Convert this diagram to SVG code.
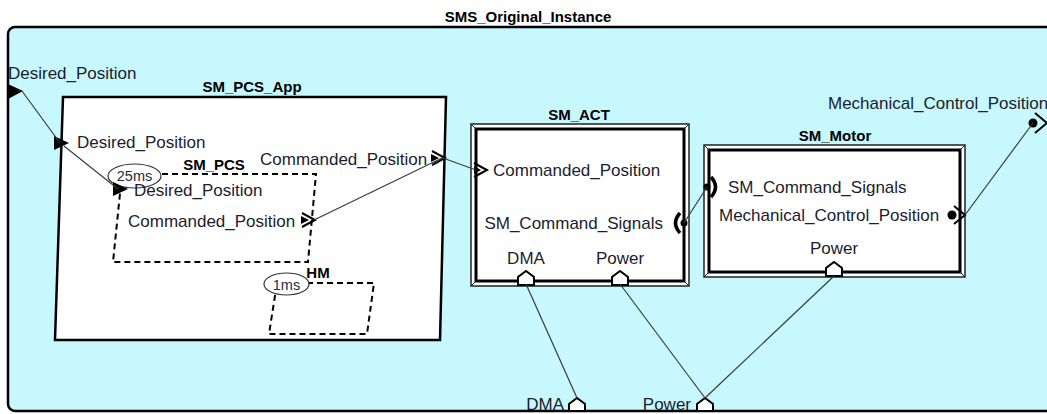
<svg xmlns="http://www.w3.org/2000/svg" width="1047" height="414" viewBox="0 0 1047 414">
  <style>
    .lbl { font-family: "Liberation Sans", Arial, sans-serif; font-size: 17px; fill: #1c1c30; }
    .ttl { font-family: "Liberation Sans", Arial, sans-serif; font-size: 15px; font-weight: bold; fill: #000; }
    .rate { font-family: "Liberation Sans", Arial, sans-serif; font-size: 14.5px; fill: #2a2a40; }
    .frame { fill: #fff; stroke: #000; stroke-width: 2.5; }
    .dash { fill: none; stroke: #000; stroke-width: 2; stroke-dasharray: 6 4; }
    .oval { fill: #fff; stroke: #333; stroke-width: 1.2; }
    .wire { fill: none; stroke: #3a3a3a; stroke-width: 1.2; }
    .tri { fill: #000; }
    .chev { fill: none; stroke: #000; stroke-width: 2; }
    .house { fill: #fff; stroke: #000; stroke-width: 2; }
    .bev-out { fill: #fff; stroke: #222; stroke-width: 1.5; }
    .bev-in { fill: #fff; stroke: #000; stroke-width: 3; }
    .bev-edge { stroke: #222; stroke-width: 1; }
  </style>

  <!-- outer composition -->
  <g id="SMS_Original_Instance">
    <rect x="8" y="27" width="1046" height="384" rx="7" fill="#c6f8fe" stroke="#000" stroke-width="2.5"/>
    <text class="ttl" x="528" y="22" text-anchor="middle">SMS_Original_Instance</text>
    <!-- in port Desired_Position -->
    <polygon class="tri" points="8,84 23,91 8,99"/>
    <text class="lbl" x="8" y="79">Desired_Position</text>
    <!-- out port Mechanical_Control_Position -->
    <circle cx="1033" cy="123" r="4.5" fill="#000"/>
    <polyline class="chev" points="1035,113 1047,123 1035,133"/>
    <text class="lbl" x="828" y="109">Mechanical_Control_Position</text>
    <!-- bottom ports -->
    <polygon class="house" points="569,411 569,404 577,398 585,404 585,411"/>
    <text class="lbl" x="564" y="410" text-anchor="end">DMA</text>
    <polygon class="house" points="697,411 697,404 705,398 713,404 713,411"/>
    <text class="lbl" x="691" y="410" text-anchor="end">Power</text>
  </g>

  <!-- SM_PCS_App -->
  <g id="SM_PCS_App">
    <polygon class="frame" points="63,97 446,97 440,340 55,340"/>
    <text class="ttl" x="252" y="92" text-anchor="middle">SM_PCS_App</text>
    <polygon class="tri" points="54,136 69,143 54,150"/>
    <text class="lbl" x="77" y="148">Desired_Position</text>
    <polygon class="tri" points="431,154 439,158 431,162"/>
    <polyline class="chev" points="432,151 445,158 432,165"/>
    <text class="lbl" x="260" y="165">Commanded_Position</text>
  </g>

  <!-- SM_PCS -->
  <g id="SM_PCS">
    <polygon class="dash" points="122,174 316,174 308,262 113,262"/>
    <ellipse class="oval" cx="134.5" cy="176" rx="26.5" ry="12"/>
    <text class="rate" x="134.5" y="181" text-anchor="middle">25ms</text>
    <text class="ttl" x="214" y="170" text-anchor="middle">SM_PCS</text>
    <polygon class="tri" points="113,182 128,189 113,196"/>
    <text class="lbl" x="134" y="196">Desired_Position</text>
    <polygon class="tri" points="301,216 309,220 301,224"/>
    <polyline class="chev" points="302,213 315,220 302,227"/>
    <text class="lbl" x="128" y="227">Commanded_Position</text>
  </g>

  <!-- HM -->
  <g id="HM">
    <polygon class="dash" points="277,283 374,283 367,334 269,334"/>
    <ellipse class="oval" cx="286.5" cy="284" rx="22.5" ry="11"/>
    <text class="rate" x="286.5" y="290" text-anchor="middle">1ms</text>
    <text class="ttl" x="318" y="278" text-anchor="middle">HM</text>
  </g>

  <!-- SM_ACT -->
  <g id="SM_ACT">
    <rect class="bev-out" x="471" y="124" width="218" height="162"/>
    <rect class="bev-in" x="476" y="129" width="208" height="152"/>
    <line class="bev-edge" x1="471" y1="124" x2="476" y2="129"/>
    <line class="bev-edge" x1="689" y1="124" x2="684" y2="129"/>
    <line class="bev-edge" x1="471" y1="286" x2="476" y2="281"/>
    <line class="bev-edge" x1="689" y1="286" x2="684" y2="281"/>
    <text class="ttl" x="579" y="120" text-anchor="middle">SM_ACT</text>
    <polygon class="tri" points="474,166 481,170 474,174"/>
    <polyline class="chev" points="474,163 487,170 474,177"/>
    <text class="lbl" x="493" y="176">Commanded_Position</text>
    <path d="M680,213 Q671,223 680,233" fill="none" stroke="#000" stroke-width="3.5"/>
    <circle cx="684" cy="223" r="3.5" fill="#000"/>
    <text class="lbl" x="663" y="229" text-anchor="end">SM_Command_Signals</text>
    <polygon class="house" points="518,285 518,277 526,271 534,277 534,285"/>
    <text class="lbl" x="526" y="264" text-anchor="middle">DMA</text>
    <polygon class="house" points="612,285 612,277 620,271 628,277 628,285"/>
    <text class="lbl" x="620" y="264" text-anchor="middle">Power</text>
  </g>

  <!-- SM_Motor -->
  <g id="SM_Motor">
    <rect class="bev-out" x="704" y="145" width="261" height="132"/>
    <rect class="bev-in" x="709" y="150" width="251" height="122"/>
    <line class="bev-edge" x1="704" y1="145" x2="709" y2="150"/>
    <line class="bev-edge" x1="965" y1="145" x2="960" y2="150"/>
    <line class="bev-edge" x1="704" y1="277" x2="709" y2="272"/>
    <line class="bev-edge" x1="965" y1="277" x2="960" y2="272"/>
    <text class="ttl" x="835" y="141" text-anchor="middle">SM_Motor</text>
    <path d="M711,177 Q720,187 711,197" fill="none" stroke="#000" stroke-width="3.5"/>
    <circle cx="707" cy="187" r="3.5" fill="#000"/>
    <text class="lbl" x="728" y="193">SM_Command_Signals</text>
    <circle cx="952" cy="215" r="4.5" fill="#000"/>
    <polyline class="chev" points="954,206 965,215 954,224"/>
    <text class="lbl" x="719" y="221">Mechanical_Control_Position</text>
    <polygon class="house" points="826,276 826,268 834,262 842,268 842,276"/>
    <text class="lbl" x="834" y="254" text-anchor="middle">Power</text>
  </g>

  <!-- connectors -->
  <g id="connectors">
    <line class="wire" x1="22" y1="91" x2="60" y2="143"/>
    <line class="wire" x1="64" y1="146" x2="118" y2="189"/>
    <line class="wire" x1="314" y1="220" x2="442" y2="158"/>
    <line class="wire" x1="443" y1="158" x2="476" y2="170"/>
    <line class="wire" x1="684" y1="223" x2="707" y2="187"/>
    <line class="wire" x1="965" y1="215" x2="1033" y2="123"/>
    <line class="wire" x1="526" y1="284" x2="577" y2="398"/>
    <line class="wire" x1="620" y1="284" x2="705" y2="398"/>
    <line class="wire" x1="834" y1="276" x2="705" y2="398"/>
  </g>
</svg>
